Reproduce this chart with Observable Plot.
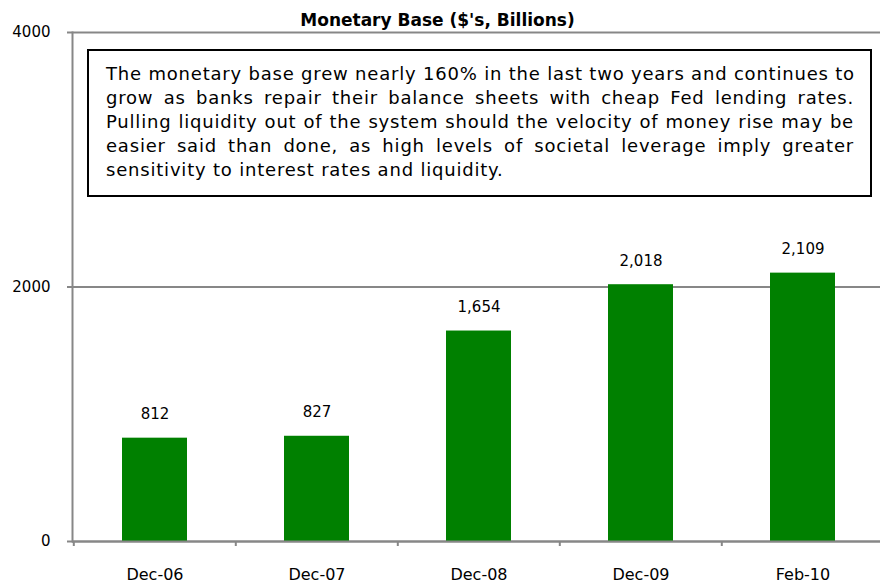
<!DOCTYPE html>
<html>
<head>
<meta charset="utf-8">
<script src="https://cdn.jsdelivr.net/npm/d3@7"></script>
<script src="https://cdn.jsdelivr.net/npm/@observablehq/plot@0.6"></script>
<style>
  html, body { margin: 0; padding: 0; background: #fff; overflow: hidden; }
  #wrap { position: relative; width: 880px; height: 584px; }
  #note {
    position: absolute; left: 87px; top: 49px; width: 785px; height: 148px;
    box-sizing: border-box; border: 2px solid #000; background: #fff;
    padding: 11px 16px 0 17px;
    font-family: "DejaVu Sans", sans-serif; font-size: 18px; line-height: 24px;
    letter-spacing: 0.8px; color: #000;
  }
  #note div { text-align: justify; text-align-last: justify; white-space: nowrap; }
  #note div:last-child { text-align-last: left; }
</style>
</head>
<body>
<div id="wrap"></div>
<script>
const categories = ["Dec-06", "Dec-07", "Dec-08", "Dec-09", "Feb-10"];
const values = [812, 827, 1654, 2018, 2109];
const yTicks = [0, 2000, 4000];
const title = "Monetary Base ($'s, Billions)";
const noteLines = [
  "The monetary base grew nearly 160% in the last two years and continues to",
  "grow as banks repair their balance sheets with cheap Fed lending rates.",
  "Pulling liquidity out of the system should the velocity of money rise may be",
  "easier said than done, as high levels of societal leverage imply greater",
  "sensitivity to interest rates and liquidity."
];

const data = categories.map((c, i) => ({cat: c, value: values[i]}));

const W = 880, H = 584, mL = 72, mR = -4, mT = 32, mB = 43;
const step = (W - mR - mL) / categories.length;
const font = "DejaVu Sans, sans-serif";
const grey = "#878787";

const chart = Plot.plot({
  width: W, height: H,
  marginLeft: mL, marginRight: mR, marginTop: mT, marginBottom: mB,
  style: {fontFamily: font, fontSize: "15px", color: "#000", background: "#fff", overflow: "visible"},
  x: {domain: categories, paddingInner: 0.6, paddingOuter: 0.3, label: null},
  y: {domain: [0, 4000], label: null},
  marks: [
    Plot.ruleY(yTicks, {stroke: grey, strokeWidth: 2}),
    Plot.axisY({ticks: yTicks, tickSize: 5, tickPadding: 17, stroke: grey, strokeWidth: 2, tickFormat: d => String(d), fontSize: 15, label: null}),
    Plot.barY(data, {x: "cat", y: "value", fill: "#008000"}),
    Plot.ruleY([0], {stroke: grey, strokeWidth: 2}),
    Plot.frame({anchor: "left", stroke: grey, strokeWidth: 2}),
    Plot.axisX({tickSize: 5, dx: -step / 2, text: null, stroke: grey, strokeWidth: 2, label: null}),
    Plot.axisX({tickSize: 0, tickPadding: 27, fontSize: 16, label: null}),
    Plot.text(data, {x: "cat", y: "value", text: d => d3.format(",")(d.value), dy: -24, fontSize: 15, fill: "#000"}),
    Plot.text([title], {frameAnchor: "top", dx: -41, dy: -19, fontSize: 17, fontWeight: "bold", fill: "#000"})
  ]
});

const wrap = document.getElementById("wrap");
wrap.appendChild(chart);
const box = document.createElement("div");
box.id = "note";
for (const line of noteLines) {
  const d = document.createElement("div");
  d.textContent = line;
  box.appendChild(d);
}
wrap.appendChild(box);
</script>
</body>
</html>
